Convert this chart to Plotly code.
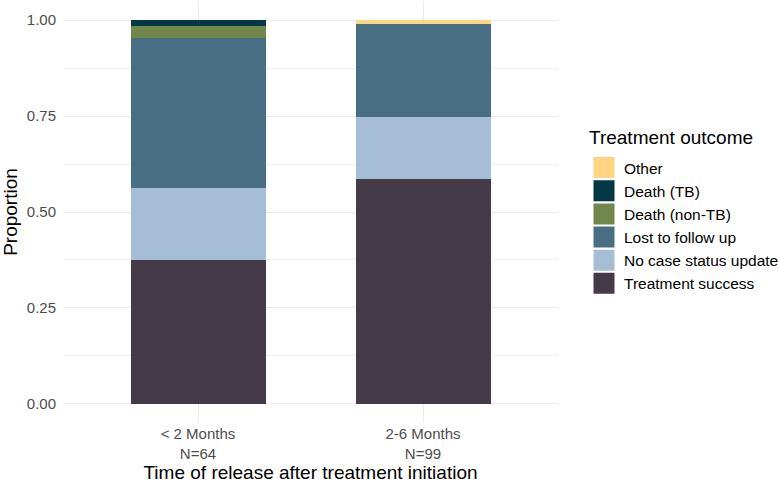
import plotly.graph_objects as go

# ---- data (counts) ----
categories = ["< 2 Months<br>N=64", "2-6 Months<br>N=99"]
n_total = [64, 99]
outcomes = ["Treatment success", "No case status update", "Lost to follow up",
            "Death (non-TB)", "Death (TB)", "Other"]
treatment_success = [24, 58]
no_case_status = [12, 16]
lost_follow_up = [25, 24]
death_non_tb = [2, 0]
death_tb = [1, 0]
other = [0, 1]

colors = {
    "Treatment success": "#453a47",
    "No case status update": "#a5bdd5",
    "Lost to follow up": "#476e83",
    "Death (non-TB)": "#71874b",
    "Death (TB)": "#053846",
    "Other": "#ffd583",
}
counts = {
    "Treatment success": treatment_success,
    "No case status update": no_case_status,
    "Lost to follow up": lost_follow_up,
    "Death (non-TB)": death_non_tb,
    "Death (TB)": death_tb,
    "Other": other,
}

FONT = "Liberation Sans, Arial, sans-serif"
W, H = 779, 483
fig = go.Figure()

# stacked bars, bottom to top
for name in outcomes:
    props = [c / n for c, n in zip(counts[name], n_total)]
    fig.add_trace(go.Bar(
        x=categories, y=props, name=name, width=0.6,
        marker=dict(color=colors[name], line=dict(width=0)),
        showlegend=False,
    ))

# legend entries (larger square keys), top to bottom like the reference
for name in reversed(outcomes):
    fig.add_trace(go.Scatter(
        x=[None], y=[None], mode="markers", name=name,
        marker=dict(symbol="square", size=16, color=colors[name],
                    line=dict(width=5, color=colors[name])),
        showlegend=True,
    ))

fig.update_layout(
    barmode="stack",
    width=W, height=H,
    margin=dict(l=63, r=221, t=1, b=60),
    paper_bgcolor="white", plot_bgcolor="white",
    font=dict(family=FONT, color="black"),
    legend=dict(
        font=dict(size=15.5, color="black"),
        traceorder="normal",
        xref="container", yref="container",
        x=584 / W, y=1 - 151 / H, xanchor="left", yanchor="top",
        itemsizing="trace", bgcolor="rgba(0,0,0,0)",
    ),
    annotations=[dict(
        text="Treatment outcome", xref="paper", yref="paper",
        x=(587 - 63) / 495, y=(422 - 137) / 421, xanchor="left", yanchor="middle",
        showarrow=False, font=dict(size=19, color="black"),
    )],
    xaxis=dict(
        type="category", range=[-0.6, 1.6],
        showgrid=True, gridcolor="#ebebeb", gridwidth=1.1,
        zeroline=False, showline=False, ticks="",
        tickfont=dict(size=15, color="#4d4d4d"),
        title=dict(text="Time of release after treatment initiation",
                   font=dict(size=19, color="black"), standoff=7),
    ),
    yaxis=dict(
        range=[-0.05, 1.05],
        tickvals=[0, 0.25, 0.5, 0.75, 1.0],
        ticktext=["0.00", "0.25", "0.50", "0.75", "1.00"],
        showgrid=True, gridcolor="#ebebeb", gridwidth=1.1,
        minor=dict(tickvals=[0.125, 0.375, 0.625, 0.875],
                   showgrid=True, gridcolor="#f0f0f0", gridwidth=0.6),
        zeroline=False, showline=False, ticks="",
        ticklabelstandoff=6,
        tickfont=dict(size=15, color="#4d4d4d"),
        title=dict(text="Proportion", font=dict(size=19, color="black"), standoff=6),
    ),
)

fig.write_html("out.html")
